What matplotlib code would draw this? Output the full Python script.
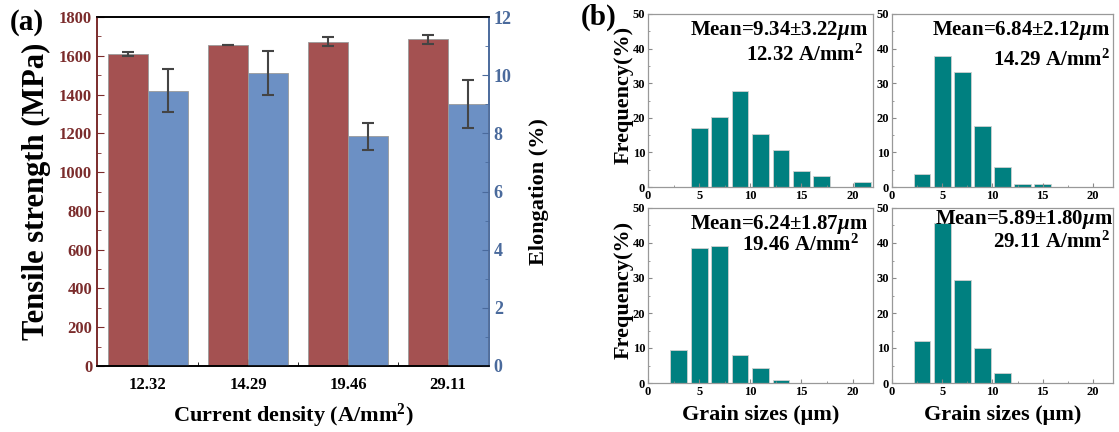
import numpy as np
import matplotlib
matplotlib.use("Agg")
import matplotlib.pyplot as plt
from matplotlib.ticker import MultipleLocator, FixedLocator

plt.rcParams['font.family'] = ['Liberation Serif', 'DejaVu Serif']
plt.rcParams['font.weight'] = 'bold'
plt.rcParams['mathtext.fontset'] = 'custom'
plt.rcParams['mathtext.rm'] = 'Liberation Serif:bold'
plt.rcParams['mathtext.bf'] = 'Liberation Serif:bold'
plt.rcParams['mathtext.it'] = 'Liberation Serif:bold:italic'

# ---- данные панели (a) ----
densities = ['12.32', '14.29', '19.46', '29.11']
tensile = [1609, 1656, 1673, 1685]
tensile_err = [10, 2, 22, 23]
elong = [9.46, 10.07, 7.90, 9.00]
elong_err = [0.74, 0.76, 0.47, 0.82]

# ---- данные панели (b): центры бинов и частоты (%) ----
bins_1232 = [5, 7, 9, 11, 13, 15, 17, 21]
freq_1232 = [17.0, 20.1, 27.8, 15.4, 10.8, 4.6, 3.1, 1.5]
bins_1429 = [3, 5, 7, 9, 11, 13, 15]
freq_1429 = [3.8, 37.8, 33.1, 17.5, 5.8, 1.0, 1.0]
bins_1946 = [3, 5, 7, 9, 11, 13]
freq_1946 = [9.4, 38.6, 39.2, 8.0, 4.4, 0.8]
bins_2911 = [3, 5, 7, 9, 11]
freq_2911 = [12.0, 45.8, 29.4, 10.0, 2.9]
mean_texts = [r'Mean=9.34$\pm$3.22$\mu$m', r'Mean=6.84$\pm$2.12$\mu$m',
              r'Mean=6.24$\pm$1.87$\mu$m', r'Mean=5.89$\pm$1.80$\mu$m']
dens_texts = ['12.32 A/mm$^2$', '14.29 A/mm$^2$', '19.46 A/mm$^2$', '29.11 A/mm$^2$']

RED = '#a45151'
BLUE = '#6c90c4'
RED_TXT = '#7b2c2c'
BLUE_TXT = '#4a6a9c'
TEAL = '#008080'

W, H = 1119, 432
fig = plt.figure(figsize=(W / 100, H / 100), dpi=100)


def px_axes(x0, y0, x1, y1):
    # координаты в пикселях (верх-лево) -> доли фигуры
    return fig.add_axes([x0 / W, 1 - y1 / H, (x1 - x0) / W, (y1 - y0) / H])


# ================= панель (a) =================
ax = px_axes(97, 17, 489, 366)
ax2 = ax.twinx()
x = np.arange(len(densities))
bw = 0.4
ax.bar(x - bw / 2, tensile, bw, color=RED, edgecolor='#9a9a9a', linewidth=0.6,
       yerr=tensile_err, error_kw=dict(ecolor='#444444', elinewidth=1.5, capsize=4, capthick=1.5))
ax2.bar(x + bw / 2, elong, bw, color=BLUE, edgecolor='#9a9a9a', linewidth=0.6,
        yerr=elong_err, error_kw=dict(ecolor='#444444', elinewidth=1.5, capsize=4, capthick=1.5))
ax.set_xlim(-0.51, 3.41)
ax.set_ylim(0, 1800)
ax2.set_ylim(0, 12)
ax.set_xticks(x)
ax.set_xticklabels(densities, fontsize=12, fontweight='bold')
ax.xaxis.set_minor_locator(FixedLocator([0.5, 1.5, 2.5]))
ax.yaxis.set_major_locator(MultipleLocator(200))
ax.yaxis.set_minor_locator(MultipleLocator(100))
ax2.yaxis.set_major_locator(MultipleLocator(2))
ax2.yaxis.set_minor_locator(MultipleLocator(1))
ax.tick_params(axis='y', which='both', direction='in', colors=RED_TXT, labelsize=12)
ax.tick_params(axis='y', which='major', length=5)
ax.tick_params(axis='y', which='minor', length=3)
ax.tick_params(axis='x', which='both', direction='in', color='black', pad=8)
ax.tick_params(axis='x', which='major', length=5)
ax.tick_params(axis='x', which='minor', length=3)
ax2.tick_params(axis='y', which='both', direction='in', colors=BLUE_TXT, labelsize=13)
ax2.tick_params(axis='y', which='major', length=5)
ax2.tick_params(axis='y', which='minor', length=3)
for t in ax.get_yticklabels() + ax2.get_yticklabels():
    t.set_fontweight('bold')
ax.spines['left'].set_color(RED_TXT)
ax2.spines['left'].set_color(RED_TXT)
ax2.spines['right'].set_color(BLUE_TXT)
ax.spines['right'].set_color(BLUE_TXT)
ax2.spines['top'].set_color('black')
for a in (ax, ax2):
    for s in a.spines.values():
        s.set_linewidth(1.2)
ax.set_ylabel('Tensile strength (MPa)', fontsize=22, fontweight='bold', labelpad=6)
ax2.set_ylabel('Elongation (%)', fontsize=16, fontweight='bold', labelpad=12)
ax.set_xlabel('Current density (A/mm$^2$)', fontsize=16, fontweight='bold', labelpad=6)
fig.text(10 / W, 1 - 22 / H, '(a)', fontsize=21, fontweight='bold', va='center', ha='left')

# ================= панель (b) =================
boxes = [(648, 14, 873, 187), (892, 14, 1113, 187),
         (648, 208, 873, 383), (892, 208, 1113, 383)]
data = [(bins_1232, freq_1232), (bins_1429, freq_1429),
        (bins_1946, freq_1946), (bins_2911, freq_2911)]
mean_pos = [(0.98, 0.905), (0.986, 0.905), (0.98, 0.903), (1.0, 0.937)]
dens_pos = [(0.955, 0.763), (0.986, 0.734), (0.935, 0.789), (0.986, 0.806)]

for i, (box, (bc, fr)) in enumerate(zip(boxes, data)):
    a = px_axes(*box)
    a.bar(bc, fr, width=1.65, color=TEAL, edgecolor='#d0d0d0', linewidth=0.6)
    a.set_xlim(0, 22)
    a.set_ylim(0, 50)
    a.xaxis.set_major_locator(MultipleLocator(5))
    a.xaxis.set_minor_locator(MultipleLocator(2.5))
    a.yaxis.set_major_locator(MultipleLocator(10))
    a.yaxis.set_minor_locator(MultipleLocator(5))
    a.tick_params(which='both', direction='in', labelsize=9, color='#888888', pad=2)
    a.tick_params(which='major', length=3)
    a.tick_params(which='minor', length=1.5)
    for t in a.get_xticklabels() + a.get_yticklabels():
        t.set_fontweight('bold')
    for s in a.spines.values():
        s.set_color('#999999')
        s.set_linewidth(0.9)
    a.text(*mean_pos[i], mean_texts[i], transform=a.transAxes, ha='right', va='center',
           fontsize=15, fontweight='bold')
    a.text(*dens_pos[i], dens_texts[i], transform=a.transAxes, ha='right', va='center',
           fontsize=15, fontweight='bold')
    if i % 2 == 0:
        a.set_ylabel('Frequency(%)', fontsize=16, fontweight='bold')
        a.yaxis.set_label_coords(-0.065, 0.53)
    if i >= 2:
        a.set_xlabel('Grain sizes (μm)', fontsize=16, fontweight='bold', labelpad=5)

fig.text(617 / W, 1 - 17 / H, '(b)', fontsize=21, fontweight='bold', va='center', ha='right')

fig.savefig('out.png', dpi=100)
